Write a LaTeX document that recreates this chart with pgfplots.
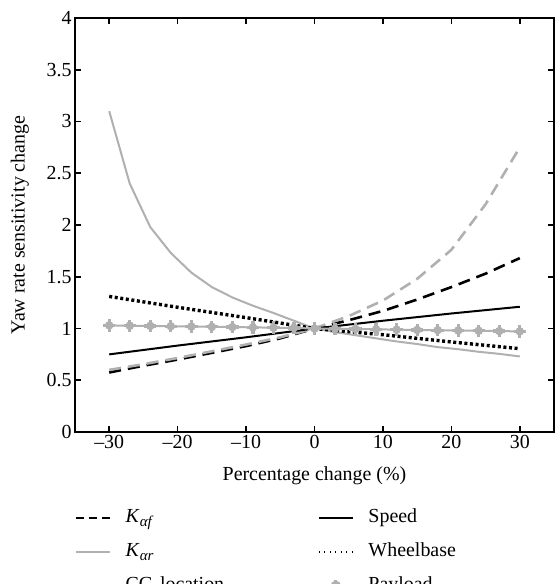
\documentclass[border=0pt]{standalone}
\usepackage{fontspec}
\setmainfont{Liberation Serif}
\usepackage{pgfplots}
\pgfplotsset{compat=1.18}
\definecolor{lgray}{RGB}{176,176,176}
\pgfdeclareplotmark{pl}{%
  \pgfpathcircle{\pgfpointorigin}{4.3bp}\pgfusepathqfill
  \pgfsetlinewidth{3.2bp}%
  \pgfpathmoveto{\pgfpoint{-6.2bp}{0bp}}\pgfpathlineto{\pgfpoint{6.2bp}{0bp}}%
  \pgfpathmoveto{\pgfpoint{0bp}{-6.2bp}}\pgfpathlineto{\pgfpoint{0bp}{6.2bp}}%
  \pgfusepathqstroke}
\begin{document}
\begin{tikzpicture}
\begin{axis}[
  name=ax,
  scale only axis,
  width=479bp, height=414bp,
  xmin=-35, xmax=35, ymin=0, ymax=4,
  xtick={-30,-20,-10,0,10,20,30},
  xticklabels={–30,–20,–10,0,10,20,30},
  ytick={0,0.5,1,1.5,2,2.5,3,3.5,4},
  /pgf/number format/assume math mode=true,
  tick align=inside,
  major tick length=6bp,
  axis line style={line width=1.6bp},
  every tick/.style={black, line width=1.6bp},
  font=\fontsize{20}{24}\selectfont,
  xlabel={Percentage change (\%)},
  ylabel={Yaw rate sensitivity change},
  xlabel style={at={(axis description cs:0.5,-0.105)}, anchor=center},
  ylabel style={at={(axis description cs:-0.115,0.5)}, anchor=center},
  legend columns=3,
  transpose legend,
  legend cell align=left,
  legend style={
    at={(axis description cs:0,-0.188)}, anchor=north west,
    draw=none, fill=none, inner sep=0pt, column sep=0pt, row sep=18bp,
    cells={anchor=west},
    nodes={inner sep=0pt, text width=192bp, text height=12bp, text depth=4bp, align=left},
    font=\fontsize{20}{24}\selectfont,
  },
]
% K_af
\addplot[black, line width=2.6bp, dash pattern=on 12bp off 7bp,
  legend image code/.code={\draw[black, line width=2.4bp, dash pattern=on 8bp off 5bp] (0bp,0bp) -- (34bp,0bp); \path (48bp,0bp);}]
  coordinates {(-30,0.575) (-25,0.64) (-20,0.70) (-15,0.765) (-10,0.83) (-5,0.905) (0,1.0) (5,1.08) (10,1.17) (15,1.28) (20,1.40) (25,1.53) (30,1.68)};
\addlegendentry{\textit{K}\raisebox{-0.45ex}{\fontsize{15}{16}\selectfont\textit{αf}}}
% K_ar
\addplot[lgray, line width=2bp,
  legend image code/.code={\draw[lgray, line width=2bp] (0bp,0bp) -- (34bp,0bp); \path (48bp,0bp);}]
  coordinates {(-30,3.10) (-27,2.40) (-24,1.98) (-21,1.73) (-18,1.54) (-15,1.40) (-12,1.30) (-9,1.22) (-6,1.15) (-3,1.075) (0,1.0) (3,0.965) (6,0.935) (9,0.905) (12,0.875) (15,0.85) (18,0.82) (21,0.80) (24,0.775) (27,0.755) (30,0.73)};
\addlegendentry{\textit{K}\raisebox{-0.45ex}{\fontsize{15}{16}\selectfont\textit{αr}}}
% CG location
\addplot[lgray, line width=2.6bp, dash pattern=on 12bp off 7bp,
  legend image code/.code={\draw[lgray, line width=2.4bp, dash pattern=on 8bp off 5bp] (0bp,0bp) -- (34bp,0bp); \path (48bp,0bp);}]
  coordinates {(-30,0.60) (-25,0.655) (-20,0.715) (-15,0.78) (-10,0.845) (-5,0.915) (0,1.0) (5,1.12) (10,1.27) (15,1.48) (20,1.76) (25,2.20) (30,2.75)};
\addlegendentry{CG location}
% Speed
\addplot[black, line width=2bp,
  legend image code/.code={\draw[black, line width=2.2bp] (0bp,0bp) -- (34bp,0bp); \path (48bp,0bp);}]
  coordinates {(-30,0.75) (-20,0.835) (-10,0.915) (0,1.0) (10,1.075) (20,1.145) (30,1.21)};
\addlegendentry{Speed}
% Wheelbase
\addplot[black, line width=3.4bp, dash pattern=on 3bp off 2.6bp,
  legend image code/.code={\draw[black, line width=1.1bp, dash pattern=on 1.1bp off 4.4bp] (0bp,0bp) -- (34bp,0bp); \path (48bp,0bp);}]
  coordinates {(-30,1.31) (-20,1.205) (-10,1.105) (0,1.0) (10,0.94) (20,0.87) (30,0.805)};
\addlegendentry{Wheelbase}
% Payload
\addplot[lgray, line width=2bp, mark=pl, mark options={fill=lgray, draw=lgray},
  legend image code/.code={\draw[lgray, line width=2bp] (0bp,0bp) -- (34bp,0bp); \fill[lgray] (17bp,0bp) circle (4.3bp); \draw[lgray,line width=3.2bp] (10.8bp,0bp)--(23.2bp,0bp) (17bp,-6.2bp)--(17bp,6.2bp); \path (48bp,0bp);}]
  coordinates {(-30,1.03) (-27,1.027) (-24,1.025) (-21,1.022) (-18,1.019) (-15,1.016) (-12,1.014) (-9,1.011) (-6,1.008) (-3,1.005) (0,1.0) (3,0.997) (6,0.995) (9,0.992) (12,0.989) (15,0.986) (18,0.984) (21,0.981) (24,0.978) (27,0.975) (30,0.972)};
\addlegendentry{Payload}
\end{axis}
\pgfresetboundingbox
\path[use as bounding box] ([xshift=-75bp,yshift=-152bp]ax.south west) rectangle ([xshift=5bp,yshift=18bp]ax.north east);
\end{tikzpicture}
\end{document}
